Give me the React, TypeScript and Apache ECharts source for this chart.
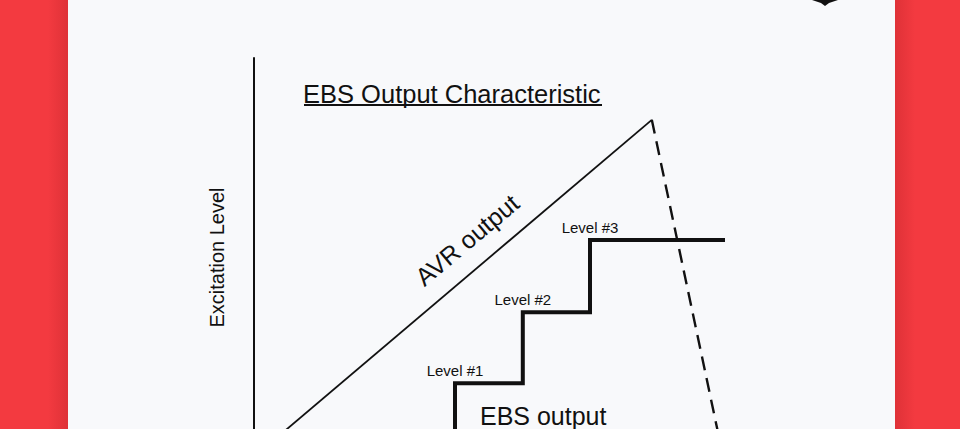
import React, { useEffect, useRef } from "react";
import * as echarts from "echarts";

// Data (arbitrary units: x 0..100, y 0..100)
const avrLine: number[][] = [[0, 0], [66.3, 84.5]];
const avrDrop: number[][] = [[66.3, 84.5], [78.2, 0]];
const ebsStepX: number[] = [33.5, 44.8, 56.0, 78.5];
const ebsLevels: number[] = [0, 18.5, 36.3, 54.4];
const levelLabels: string[] = ["Level #1", "Level #2", "Level #3"];
const annotationNames: string[] = ["AVR output", "EBS output"];
const annotationPoints: number[][] = [[35.5, 54.4], [48.2, 10.4]];
const annotationRotations: number[] = [40, 0];
const chartTitle = "EBS Output Characteristic";
const yAxisName = "Excitation Level";

const FONT = "'Liberation Sans', Arial, sans-serif";
const INK = "#111111";
const RED = "#f33a40";
const PANEL = "#f8f9fb";

export default function App() {
  const ref = useRef<HTMLDivElement>(null);

  useEffect(() => {
    if (!ref.current) return;
    const chart = echarts.init(ref.current, undefined, { renderer: "svg" });

    const stepData = ebsStepX.map((x, i) => [x, ebsLevels[i]]);
    const levelData = levelLabels.map((name, i) => ({
      name,
      value: [ebsStepX[i], ebsLevels[i + 1]],
    }));
    const annData = annotationNames.map((name, i) => ({
      name,
      value: annotationPoints[i],
      label: { rotate: annotationRotations[i] },
    }));

    chart.setOption({
      animation: false,
      backgroundColor: RED,
      graphic: [
        {
          type: "rect",
          z: -10,
          shape: { x: 48, y: 0, width: 20, height: 429 },
          style: {
            fill: new echarts.graphic.LinearGradient(0, 0, 1, 0, [
              { offset: 0, color: "rgba(150,20,25,0)" },
              { offset: 1, color: "rgba(150,20,25,0.22)" },
            ]),
          },
        },
        {
          type: "rect",
          z: -10,
          shape: { x: 895, y: 0, width: 20, height: 429 },
          style: {
            fill: new echarts.graphic.LinearGradient(0, 0, 1, 0, [
              { offset: 0, color: "rgba(150,20,25,0.22)" },
              { offset: 1, color: "rgba(150,20,25,0)" },
            ]),
          },
        },
        {
          type: "rect",
          z: -9,
          shape: { x: 68, y: 0, width: 827, height: 429 },
          style: { fill: PANEL },
        },
        {
          type: "polygon",
          z: 5,
          shape: {
            points: [
              [812, 0],
              [838, 0],
              [829, 3],
              [825, 6],
              [821, 3],
            ],
          },
          style: { fill: INK },
        },
        {
          type: "text",
          z: 5,
          x: 303,
          y: 93.5,
          style: {
            text: chartTitle,
            font: `25.5px ${FONT}`,
            fill: INK,
            textAlign: "left",
            textVerticalAlign: "middle",
          },
        },
        {
          type: "line",
          z: 5,
          shape: { x1: 304, y1: 105, x2: 602, y2: 105 },
          style: { stroke: INK, lineWidth: 1.8 },
        },
      ],
      grid: {
        left: 254,
        top: 58,
        width: 600,
        height: 399,
        outerBoundsMode: "none",
        containLabel: false,
      },
      xAxis: {
        type: "value",
        min: 0,
        max: 100,
        axisLine: { show: true, lineStyle: { color: INK, width: 2 } },
        axisTick: { show: false },
        axisLabel: { show: false },
        splitLine: { show: false },
      },
      yAxis: {
        type: "value",
        min: 0,
        max: 100,
        name: yAxisName,
        nameLocation: "middle",
        nameRotate: 90,
        nameGap: 27,
        nameTextStyle: { fontFamily: FONT, fontSize: 20, color: INK },
        axisLine: { show: true, lineStyle: { color: INK, width: 2 } },
        axisTick: { show: false },
        axisLabel: { show: false },
        splitLine: { show: false },
      },
      series: [
        {
          name: "AVR output",
          type: "line",
          data: avrLine,
          symbol: "none",
          lineStyle: { color: INK, width: 1.8 },
        },
        {
          name: "AVR drop",
          type: "line",
          data: avrDrop,
          symbol: "none",
          lineStyle: { color: INK, width: 2.4, type: [14, 8] },
        },
        {
          name: "EBS output",
          type: "line",
          step: "start",
          data: stepData,
          symbol: "none",
          lineStyle: { color: INK, width: 4, join: "miter", cap: "butt" },
        },
        {
          name: "Level labels",
          type: "scatter",
          data: levelData,
          symbolSize: 0,
          silent: true,
          itemStyle: { opacity: 1 },
          label: {
            show: true,
            position: "top",
            distance: 5,
            formatter: "{b}",
            fontFamily: FONT,
            fontSize: 15,
            color: INK,
            opacity: 1,
          },
        },
        {
          name: "Annotations",
          type: "scatter",
          data: annData,
          symbolSize: 0,
          silent: true,
          itemStyle: { opacity: 1 },
          label: {
            show: true,
            position: "inside",
            formatter: "{b}",
            fontFamily: FONT,
            fontSize: 25,
            color: INK,
            opacity: 1,
          },
        },
      ],
    });

    return () => chart.dispose();
  }, []);

  return (
    <div
      ref={ref}
      style={{ position: "fixed", left: 0, top: 0, width: 960, height: 429 }}
    />
  );
}
